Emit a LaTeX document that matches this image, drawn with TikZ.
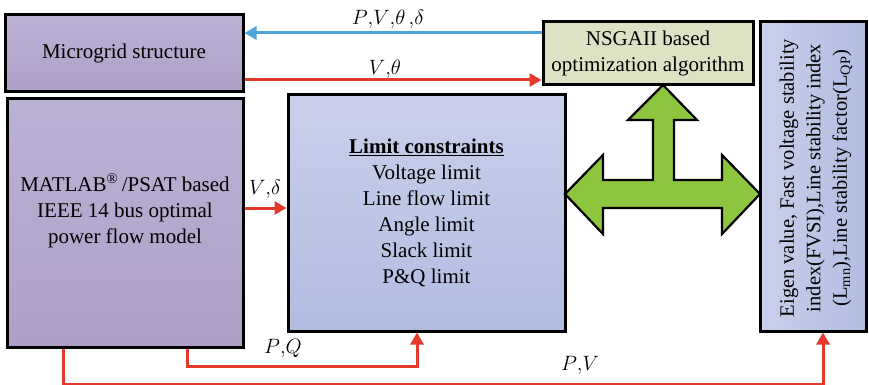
\documentclass[tikz,border=0pt]{standalone}
\usepackage{fontspec}
\setmainfont{Liberation Serif}
\usetikzlibrary{arrows.meta,calc}
\definecolor{LilacTop}{HTML}{BCB2D4}
\definecolor{LilacBot}{HTML}{AE9FC9}
\definecolor{PeriTop}{HTML}{CAD0EB}
\definecolor{PeriBot}{HTML}{B2BCE1}
\definecolor{Sage}{HTML}{DCE3C5}
\definecolor{Leaf}{HTML}{8CC63F}
\definecolor{SkyLine}{HTML}{4DA6DA}
\definecolor{RedLine}{HTML}{E5392D}

\begin{document}
\begin{tikzpicture}[x=1pt,y=-1pt,>={Triangle[length=12pt,width=13pt]},
  every node/.style={font=\fontsize{21}{26}\selectfont},
  block/.style={draw=black,line width=3pt,inner sep=0pt,align=center},
  lilac/.style={top color=LilacTop,bottom color=LilacBot},
  peri/.style={top color=PeriTop,bottom color=PeriBot},
  sig/.style={line width=3pt,->},
  lbl/.style={font=\fontsize{21}{26}\selectfont\itshape}]
  \useasboundingbox (0,0) rectangle (869,385);
  % blocks
  \node[block,lilac,minimum width=238pt,minimum height=77pt] (micro) at (124,53.5) {Microgrid structure};
  \node[block,lilac,minimum width=236pt,minimum height=248pt,
    label={[yshift=12pt,align=center]center:MATLAB\textsuperscript{\textregistered}\,/PSAT based\\IEEE 14 bus optimal\\power flow model}]
    (matlab) at (125,223) {};
  \node[block,peri,minimum width=277pt,minimum height=236pt] (limit) at (426.5,213)
    {\underline{\textbf{Limit constraints}}\\Voltage limit\\Line flow limit\\Angle limit\\Slack limit\\P\&Q limit};
  \node[block,fill=Sage,minimum width=210pt,minimum height=63pt] (nsga) at (648,53.5)
    {NSGAII based\\optimization algorithm};
  \node[block,left color=PeriTop,right color=PeriBot,minimum width=106pt,minimum height=309pt] (eigen) at (813,176.5) {};
  \node[rotate=90,align=center,font=\fontsize{20.5}{26.5}\selectfont] (eigentxt) at (816,178)
    {Eigen value, Fast voltage stability\\index(FVSI),Line stability index\\(L\textsubscript{mn}),Line stability factor(L\textsubscript{QP})};
  % green arrow
  \draw[line width=2.2pt,fill=Leaf,line join=miter] (565,194) -- (603,155) -- (603,180) -- (653,180) -- (653,120)
    -- (628,120) -- (663,85) -- (697,120) -- (674,120) -- (674,180) -- (722,180) -- (722,155)
    -- (760,194) -- (722,234) -- (722,208) -- (603,208) -- (603,234) -- cycle;
  % signals
  \draw[sig,SkyLine] ([yshift=20.5pt]nsga.west) -- ([yshift=20.5pt]nsga.west -| micro.east);
  \draw[sig,RedLine] ([yshift=-26.5pt]micro.east) -- ([yshift=-26.5pt]micro.east -| nsga.west);
  \draw[sig,RedLine] ([yshift=15pt]matlab.east) -- ([yshift=15pt]matlab.east -| limit.west);
  \coordinate (pq) at ([xshift=62pt]matlab.south);
  \draw[sig,RedLine] (pq) |- ($(limit.south)+(-9.5,34)$) -- ([xshift=-9.5pt]limit.south);
  \coordinate (pv) at ([xshift=-62pt]matlab.south);
  \draw[sig,RedLine] (pv) |- ($(eigen.south)+(10,52)$) -- ([xshift=10pt]eigen.south);
  % labels
  \node[lbl] (l1) at (388,19) {$P{,}V{,}\theta\,{,}\delta$};
  \node[lbl] (l2) at (385,69) {$V{,}\theta$};
  \node[lbl] (l3) at (265,189) {$V{,}\delta$};
  \node[lbl] (l4) at (283,348) {$P{,}Q$};
  \node[lbl] (l5) at (580,365) {$P{,}V$};
\end{tikzpicture}
\end{document}
